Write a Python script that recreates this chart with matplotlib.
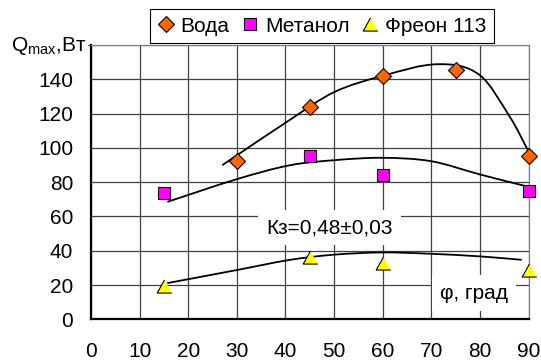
import matplotlib
matplotlib.use("Agg")
import matplotlib.pyplot as plt
import numpy as np
from matplotlib.path import Path
from matplotlib.patches import PathPatch

plt.rcParams['font.family'] = ['Liberation Sans', 'DejaVu Sans']
plt.rcParams['mathtext.fontset'] = 'custom'
plt.rcParams['mathtext.rm'] = 'Liberation Sans'
plt.rcParams['mathtext.it'] = 'Liberation Sans'

# measured points
water_x = [30, 45, 60, 75, 90]
water_y = [92.6, 123.7, 141.8, 145.5, 95.5]
meth_x = [15, 45, 60, 90]
meth_y = [73.8, 95.5, 84.1, 75.1]
freon_x = [15, 45, 60, 90]
freon_y = [19.7, 36.3, 32.6, 28.9]

# hand-drawn trend curves
water_tx = [27, 41, 50, 60, 71.5, 80, 86.4, 90]
water_ty = [89.9, 116.5, 132.5, 142, 148.8, 142.4, 117, 98]
meth_tx = [15.7, 30.3, 41, 50, 60, 70, 80, 90]
meth_ty = [68.5, 82, 89.9, 92.8, 94.2, 92.2, 84.5, 77.3]
freon_tx = [15.7, 30.3, 41, 50, 60, 70, 80, 88.6]
freon_ty = [21.1, 28.9, 34.7, 37.7, 39, 38.2, 36.7, 34.7]

xticks = list(range(0, 91, 10))
yticks = list(range(0, 141, 20))

FS = 15


def smooth_curve(xs, ys):
    # cubic hermite through the knots, drawn as bezier segments
    x = np.asarray(xs, float)
    y = np.asarray(ys, float)
    n = len(x)
    m = np.empty(n)
    m[0] = (y[1] - y[0]) / (x[1] - x[0])
    m[-1] = (y[-1] - y[-2]) / (x[-1] - x[-2])
    for i in range(1, n - 1):
        m[i] = (y[i + 1] - y[i - 1]) / (x[i + 1] - x[i - 1])
    verts = [(x[0], y[0])]
    codes = [Path.MOVETO]
    for i in range(n - 1):
        h = x[i + 1] - x[i]
        verts += [(x[i] + h / 3, y[i] + m[i] * h / 3),
                  (x[i + 1] - h / 3, y[i + 1] - m[i + 1] * h / 3),
                  (x[i + 1], y[i + 1])]
        codes += [Path.CURVE4] * 3
    return PathPatch(Path(verts, codes), fill=False, edgecolor='black', lw=1.3, zorder=3)


fig = plt.figure(figsize=(5.41, 3.61), dpi=100)
ax = fig.add_axes([91 / 541, 1 - 319.3 / 361, 437.5 / 541, 274.3 / 361])

for tx, ty in [(water_tx, water_ty), (meth_tx, meth_ty), (freon_tx, freon_ty)]:
    ax.add_patch(smooth_curve(tx, ty))

tri = [(0, 0.9), (-1, -0.9), (1, -0.9)]
ax.plot(water_x, water_y, ls='none', marker='D', ms=8, mfc='#FF6600', mec='black', mew=0.8,
        label='Вода', zorder=4, clip_on=False)
ax.plot(meth_x, meth_y, ls='none', marker='s', ms=9, mfc='#FF00FF', mec='black', mew=0.8,
        label='Метанол', zorder=4, clip_on=False)
ax.plot(freon_x, freon_y, ls='none', marker=tri, ms=10.5, mfc='#FFFF00', mec='black', mew=0.8,
        label='Фреон 113', zorder=4, clip_on=False)

ax.set_xlim(0, 90)
ax.set_ylim(0, 160)
ax.set_xticks(xticks)
ax.set_yticks(yticks)
ax.tick_params(axis='both', length=0, labelsize=FS)
ax.tick_params(axis='x', pad=16)
ax.tick_params(axis='y', pad=12.7)
ax.set_yticks([160], minor=True)
ax.grid(True, which='both', color='#404040', lw=0.9)
ax.set_axisbelow(True)

for s in ['left', 'bottom']:
    ax.spines[s].set_linewidth(1.6)
    ax.spines[s].set_color('black')
for s in ['top', 'right']:
    ax.spines[s].set_linewidth(0.9)
    ax.spines[s].set_color('#808080')

ax.text(49.0, 53.5, 'Кз=0,48±0,03', fontsize=FS, ha='center', va='center', zorder=5,
        bbox=dict(facecolor='white', edgecolor='none', pad=6))
ax.text(78.8, 15.3, 'φ, град', fontsize=FS, ha='center', va='center', zorder=5,
        bbox=dict(facecolor='white', edgecolor='none', pad=6))

fig.text(87 / 541, 1 - 51 / 361, 'Q$_{\\mathrm{max}}$,Вт', fontsize=FS, ha='right', va='baseline')

leg = ax.legend(loc='center', bbox_to_anchor=(322 / 541, 1 - 26 / 361), bbox_transform=fig.transFigure,
                ncol=3, fontsize=FS, frameon=True, fancybox=False, framealpha=1, edgecolor='black',
                handlelength=0.8, handletextpad=0.3, columnspacing=0.6, borderpad=0.35)
leg.get_frame().set_linewidth(0.8)

fig.savefig('out.png', dpi=100)
